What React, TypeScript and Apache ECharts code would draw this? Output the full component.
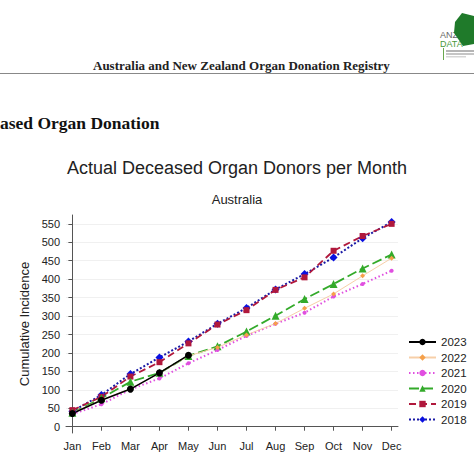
import React, { useEffect, useRef } from "react";
import * as echarts from "echarts";

const months = ["Jan", "Feb", "Mar", "Apr", "May", "Jun", "Jul", "Aug", "Sep", "Oct", "Nov", "Dec"];
const yTicks = [0, 50, 100, 150, 200, 250, 300, 350, 400, 450, 500, 550];

const d2023 = [36, 72, 102, 146, 194];
const d2022 = [38, 73, 103, 145, 192, 215, 249, 280, 321, 360, 409, 457];
const d2021 = [34, 61, 101, 131, 172, 208, 246, 279, 309, 353, 387, 423];
const d2020 = [38, 77, 122, 146, 192, 218, 258, 301, 346, 387, 429, 467];
const d2019 = [45, 81, 136, 175, 226, 277, 316, 371, 405, 477, 517, 550];
const d2018 = [42, 86, 143, 188, 231, 279, 322, 372, 414, 459, 511, 555];

const pts = (arr: number[]) => arr.map((v, i) => [i, v]);

export default function App() {
  const ref = useRef<HTMLDivElement>(null);
  useEffect(() => {
    document.body.style.margin = "0";
    const chart = echarts.init(ref.current!, null, { renderer: "svg" });
    const sans = "Liberation Sans, Arial, sans-serif";
    const serif = "Liberation Serif, Times New Roman, serif";
    const mk = (name: string, data: number[], color: string, lineColor: string, lineType: any, width: number, symbol: string, size: number) => ({
      name,
      type: "line",
      data: pts(data),
      symbol,
      symbolSize: size,
      itemStyle: { color, borderWidth: 0 },
      lineStyle: { color: lineColor, type: lineType, width },
      z: 2,
    });
    chart.setOption({
      animation: false,
      backgroundColor: "#ffffff",
      textStyle: { fontFamily: sans },
      title: [
        {
          text: "Actual Deceased Organ Donors per Month",
          left: 232,
          top: 154,
          textAlign: "center",
          textStyle: { fontSize: 18, fontWeight: "normal", color: "#222", fontFamily: sans },
        },
        {
          text: "Australia",
          left: 232,
          top: 188,
          textAlign: "center",
          textStyle: { fontSize: 13, fontWeight: "normal", color: "#222", fontFamily: sans },
        },
      ],
      graphic: [
        {
          type: "text",
          left: 93,
          top: 59,
          style: { text: "Australia and New Zealand Organ Donation Registry", font: `bold 13px ${serif}`, fill: "#222" },
        },
        { type: "line", shape: { x1: 0, y1: 73.5, x2: 474, y2: 73.5 }, style: { stroke: "#888", lineWidth: 1 } },
        {
          type: "text",
          left: 0,
          top: 114,
          style: { text: "ased Organ Donation", font: `bold 17.5px ${serif}`, fill: "#111" },
        },
        { type: "text", left: 440, top: 30, style: { text: "ANZ", font: `9px ${sans}`, fill: "#666" } },
        { type: "text", left: 440, top: 39, style: { text: "DATA", font: `9px ${sans}`, fill: "#4a9a3a" } },
        {
          type: "polygon",
          shape: { points: [[462, 13], [474, 16], [474, 44], [463, 46], [454, 33], [455, 22]] },
          style: { fill: "#1f7a2a" },
        },
        { type: "line", shape: { x1: 443.5, y1: 48, x2: 443.5, y2: 60 }, style: { stroke: "#6aa84f", lineWidth: 1 } },
        { type: "rect", shape: { x: 446, y: 50, width: 28, height: 2 }, style: { fill: "#b5b5b5" } },
        { type: "rect", shape: { x: 446, y: 53, width: 28, height: 2 }, style: { fill: "#c5c5c5" } },
        { type: "rect", shape: { x: 446, y: 56, width: 20, height: 1.5 }, style: { fill: "#d5d5d5" } },
      ],
      legend: {
        orient: "vertical",
        left: 403,
        top: 331,
        itemWidth: 27,
        itemHeight: 8,
        itemGap: 3.5,
        textStyle: { fontSize: 11.5, color: "#222", lineHeight: 12, fontFamily: sans },
        data: ["2023", "2022", "2021", "2020", "2019", "2018"],
      },
      grid: { left: 66, right: 76, top: 215, bottom: 41 },
      xAxis: {
        type: "value",
        min: -0.22,
        max: 11.22,
        axisLine: { show: true, lineStyle: { color: "#555", width: 1 } },
        axisTick: { show: true, length: 4, customValues: months.map((_, i) => i), lineStyle: { color: "#555" } },
        axisLabel: {
          customValues: months.map((_, i) => i),
          formatter: (v: number) => months[Math.round(v)],
          fontSize: 11,
          color: "#222",
          margin: 7,
        },
        splitLine: { show: false },
      },
      yAxis: {
        type: "value",
        min: -17,
        max: 574,
        name: "Cumulative Incidence",
        nameLocation: "middle",
        nameRotate: 90,
        nameGap: 34,
        nameTextStyle: { fontSize: 13, color: "#222", fontFamily: sans },
        axisLine: { show: true, lineStyle: { color: "#555", width: 1 } },
        axisTick: { show: true, length: 4, customValues: yTicks, lineStyle: { color: "#555" } },
        axisLabel: { customValues: yTicks, fontSize: 11, color: "#222", margin: 6 },
        splitLine: { show: true, lineStyle: { color: "#f0f0f0", width: 1 } },
      },
      series: [
        mk("2018", d2018, "#0a10e0", "#1a1aa6", [2, 2], 2, "diamond", 8),
        mk("2019", d2019, "#b0183c", "#b0183c", [7, 4], 1.8, "rect", 6),
        mk("2020", d2020, "#33aa2a", "#33aa2a", [10, 4], 1.8, "triangle", 8),
        mk("2021", d2021, "#e04fe0", "#e04fe0", [1.5, 2.5], 2, "circle", 4),
        mk("2022", d2022, "#f5a04a", "#f7cfa8", "solid", 1, "diamond", 5),
        mk("2023", d2023, "#000000", "#000000", "solid", 1.6, "circle", 7),
      ],
    });
    return () => chart.dispose();
  }, []);
  return <div ref={ref} style={{ position: "fixed", left: 0, top: 0, width: 474, height: 474 }} />;
}
